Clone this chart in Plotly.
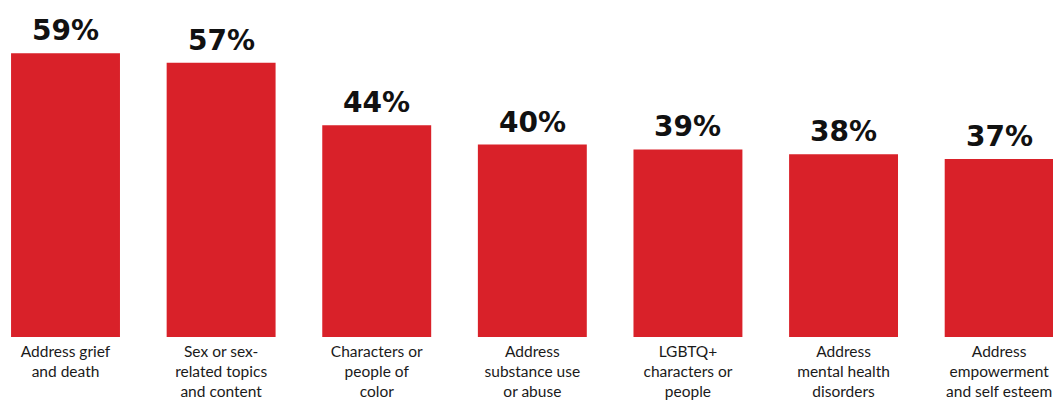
import plotly.graph_objects as go

categories = [
    "Address grief<br>and death",
    "Sex or sex-<br>related topics<br>and content",
    "Characters or<br>people of<br>color",
    "Address<br>substance use<br>or abuse",
    "LGBTQ+<br>characters or<br>people",
    "Address<br>mental health<br>disorders",
    "Address<br>empowerment<br>and self esteem",
]
values = [59, 57, 44, 40, 39, 38, 37]
value_labels = ["59%", "57%", "44%", "40%", "39%", "38%", "37%"]

xs = list(range(len(categories)))
fig = go.Figure(go.Bar(
    x=xs, y=values, width=0.70, marker=dict(color="#d92129", line=dict(width=0)),
    hoverinfo="skip",
))
for x, v, t in zip(xs, values, value_labels):
    fig.add_annotation(x=x, y=v, text="<b>" + t + "</b>", showarrow=False,
                       yanchor="bottom", yshift=4,
                       font=dict(family="DejaVu Sans", size=28, color="#111111"))

fig.update_layout(
    width=1053, height=402,
    margin=dict(l=0, r=0, t=0, b=65),
    paper_bgcolor="white", plot_bgcolor="white",
    showlegend=False,
    xaxis=dict(range=[-0.421, 6.346], tickmode="array", tickvals=xs, ticktext=categories,
               showgrid=False, zeroline=False, showline=False, ticks="",
               automargin=False, ticklabeloverflow="allow",
               tickfont=dict(family="Lato", size=15.5, color="#1a1a1a"), ticklabelstandoff=3),
    yaxis=dict(range=[0, 70.06], visible=False, automargin=False),
)
fig.write_html("out.html")
